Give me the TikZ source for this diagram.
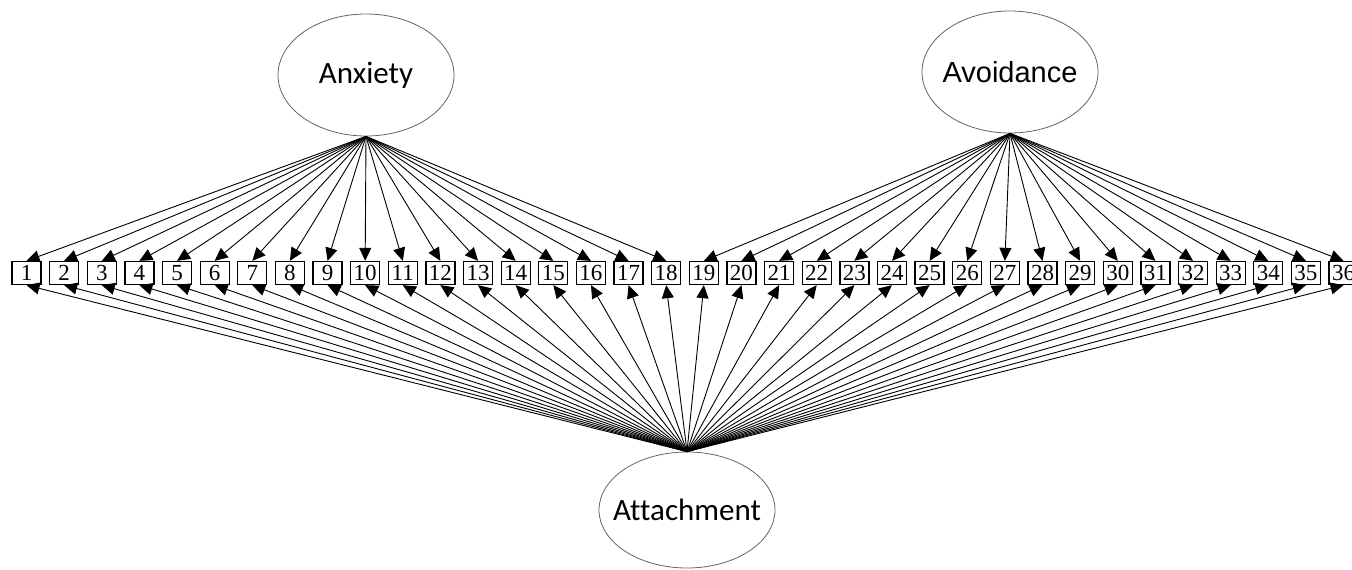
\documentclass[tikz,border=0pt]{standalone}
\usepackage{fontspec}
\setmainfont{Liberation Serif}
\newfontfamily\calfont[Ligatures=NoCommon]{Carlito}
\newfontfamily\arifont{Liberation Sans}
\usetikzlibrary{shapes.geometric,arrows.meta}
\begin{document}
\begin{tikzpicture}[x=1pt,y=-1pt,
  latent/.style={ellipse,draw=black!60,line width=0.8pt,inner sep=0pt,
    minimum width=176pt,minimum height=122pt},
  item/.style={draw=black,line width=1.3pt,inner sep=0pt,
    minimum width=29pt,minimum height=23pt,
    font=\fontsize{23}{24}\selectfont},
  load/.style={draw=black,line width=0.9pt,
    -{Triangle[length=13pt,width=12pt]}}]
  \useasboundingbox[fill=white] (0,0) rectangle (1352,570);

  % latent factors (text boxed to zero width so the ellipses keep their size)
  \node[latent,font=\calfont\fontsize{31}{36}\selectfont] (anx) at (366,75) {\makebox[0pt]{Anxiety}};
  \node[latent,font=\arifont\fontsize{29}{34}\selectfont] (avo) at (1010,72) {\makebox[0pt]{Avoidance}};
  \node[latent,minimum height=116pt,font=\calfont\fontsize{31}{36}\selectfont] (att) at (687,510) {\makebox[0pt]{Attachment}};

  % observed items
  \foreach \i in {1,...,36}
    \node[item] (b\i) at ({26.5+(\i-1)*37.63},273) {\i};

  % loadings of the specific factors
  \foreach \i in {1,...,18}
    \draw[load] (anx.south) -- (b\i.north);
  \foreach \i in {19,...,36}
    \draw[load] (avo.south) -- (b\i.north);

  % loadings of the general factor
  \foreach \i in {1,...,36}
    \draw[load] (att.north) -- (b\i.south);
\end{tikzpicture}
\end{document}
